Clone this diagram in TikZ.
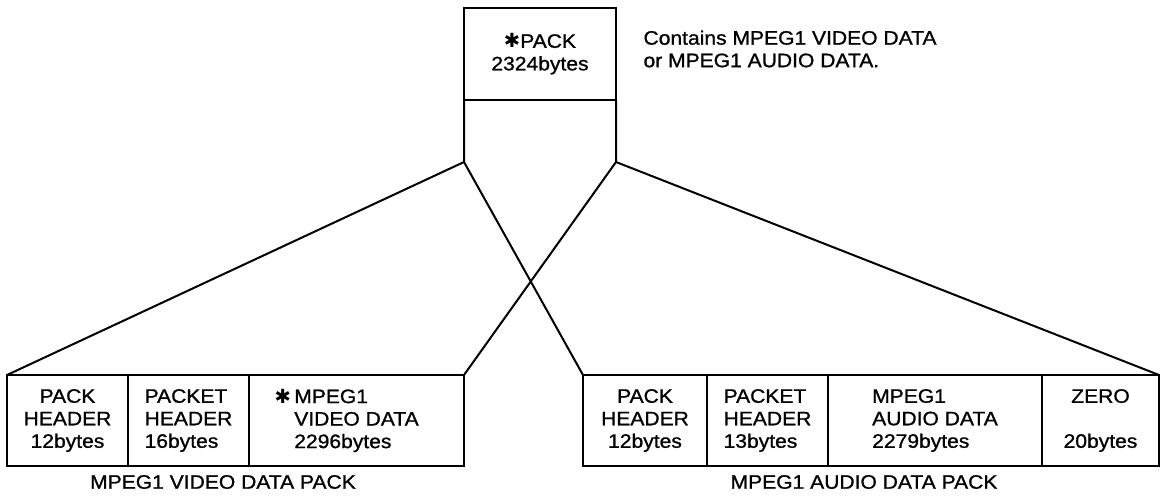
\documentclass[tikz,border=0pt]{standalone}
\usepackage{fontspec}
\setmainfont[FakeStretch=1.08, FakeBold=1]{Liberation Sans}
\newfontfamily\symfont{DejaVu Sans}
\usepackage{tikz}
\usetikzlibrary{positioning}
\newcommand{\packstar}{{\symfont ✱}}
\tikzstyle{cell} = [rectangle, draw, line width=2pt, outer sep=0pt, inner sep=0pt, minimum height=91pt, text centered]
\tikzstyle{packbox} = [rectangle, draw, line width=2pt, outer sep=0pt, inner sep=0pt, minimum width=152pt, minimum height=92pt, align=center]
\tikzstyle{link} = [line width=2pt, line join=round]

\begin{document}
\begin{tikzpicture}[x=1pt, y=-1pt, font=\fontsize{19.5}{22.5}\selectfont]
\useasboundingbox (0,0) rectangle (1162,501);

% the pack on top
\node (pack) [packbox, anchor=north west] at (464,8) {\packstar PACK\\2324bytes};
\coordinate (cl) at ([yshift=-62pt]pack.south west);
\coordinate (cr) at ([yshift=-62pt]pack.south east);
\node (note) [anchor=north west, align=left] at (640,27) {Contains MPEG1 VIDEO DATA\\or MPEG1 AUDIO DATA.};

% video data pack
\node (vph) [cell, anchor=north west, minimum width=121pt, align=center] at (7,375) {PACK\\HEADER\\12bytes};
\node (vpkt) [cell, right=0pt of vph, minimum width=121pt, align=left] {PACKET\\HEADER\\16bytes};
\node (vdata) [cell, right=0pt of vpkt, minimum width=215pt, align=left] {\llap{\packstar\,}MPEG1\\VIDEO DATA\\2296bytes};
\node (vlabel) at (223,482) {MPEG1 VIDEO DATA PACK};

% audio data pack
\node (aph) [cell, anchor=north west, minimum width=124pt, align=center] at (583,375) {PACK\\HEADER\\12bytes};
\node (apkt) [cell, right=0pt of aph, minimum width=121pt, align=left] {PACKET\\HEADER\\13bytes};
\node (adata) [cell, right=0pt of apkt, minimum width=214pt, align=left] {MPEG1\\AUDIO DATA\\2279bytes};
\node (azero) [cell, right=0pt of adata, minimum width=117pt, align=center] {ZERO\\[22.5pt]20bytes};
\node (alabel) at (864,482) {MPEG1 AUDIO DATA PACK};

\draw[link] (pack.south west) -- (cl) -- (vph.north west);
\draw[link] (cl) -- (aph.north west);
\draw[link] (pack.south east) -- (cr) -- (azero.north east);
\draw[link] (cr) -- (vdata.north east);
\end{tikzpicture}
\end{document}
